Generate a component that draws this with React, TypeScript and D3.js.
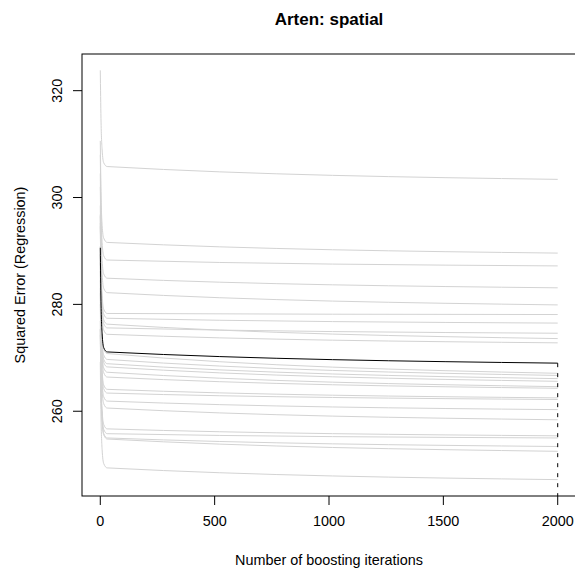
import React from "react";
import * as d3 from "d3";

// Boosting iterations at which the cross-validated risk is recorded
const iterations = [0, 3, 8, 15, 30, 2000];

// Out-of-sample squared error per bootstrap fold (one row per fold)
const foldRisk: number[][] = [
  [323.8, 314.8, 308.9, 306.5, 305.8, 303.4],
  [310.6, 301.1, 294.8, 292.4, 291.6, 289.6],
  [308.0, 298.2, 291.6, 289.1, 288.3, 287.2],
  [304.5, 294.7, 288.2, 285.7, 284.9, 283.1],
  [302.0, 292.1, 285.6, 283.0, 282.2, 279.9],
  [298.5, 288.4, 281.7, 279.1, 278.3, 278.1],
  [296.8, 287.1, 280.7, 278.2, 277.4, 276.5],
  [296.5, 286.4, 279.7, 277.1, 276.3, 273.6],
  [295.2, 285.4, 278.9, 276.4, 275.6, 274.6],
  [294.6, 284.5, 277.8, 275.2, 274.4, 272.8],
  [290.9, 280.9, 274.2, 271.6, 270.8, 267.1],
  [289.4, 279.6, 273.0, 270.5, 269.7, 266.7],
  [289.3, 279.1, 272.4, 269.7, 268.9, 266.1],
  [287.9, 278.1, 271.6, 269.1, 268.3, 265.6],
  [287.6, 277.5, 270.8, 268.1, 267.3, 264.6],
  [286.2, 276.3, 269.8, 267.2, 266.4, 264.3],
  [284.5, 274.3, 267.6, 264.9, 264.1, 262.5],
  [283.0, 273.2, 266.7, 264.2, 263.4, 262.2],
  [282.1, 272.0, 265.3, 262.7, 261.9, 260.3],
  [280.0, 270.3, 263.9, 261.4, 260.6, 258.4],
  [276.9, 266.8, 260.1, 257.5, 256.7, 255.4],
  [275.4, 265.6, 259.1, 256.6, 255.8, 255.0],
  [275.3, 265.1, 258.5, 255.8, 255.0, 253.4],
  [274.3, 264.5, 258.1, 255.6, 254.8, 252.5],
  [269.2, 259.3, 252.8, 250.2, 249.4, 247.2],
];

// Average risk over all folds
const meanRisk = [290.6, 280.6, 274.5, 271.9, 271.1, 269.0];

// Selected stopping iteration
const mstop = 2000;

const xTicks = [0, 500, 1000, 1500, 2000];
const yTicks = [260, 280, 300, 320];

const title = "Arten: spatial";
const xLabel = "Number of boosting iterations";
const yLabel = "Squared Error (Regression)";

const W = 575;
const H = 569;
const plot = { left: 82, right: 576, top: 54, bottom: 496 };
const font = "'Liberation Sans', Arial, Helvetica, sans-serif";

export default function App() {
  // R-style 4% padding around the data ranges
  const xr = d3.extent(iterations) as [number, number];
  const xPad = (xr[1] - xr[0]) * 0.04;
  const all = foldRisk.flat().concat(meanRisk);
  const yr = d3.extent(all) as [number, number];
  const yPad = (yr[1] - yr[0]) * 0.04;

  const x = d3.scaleLinear().domain([xr[0] - xPad, xr[1] + xPad]).range([plot.left, plot.right]);
  const y = d3.scaleLinear().domain([yr[0] - yPad, yr[1] + yPad]).range([plot.bottom, plot.top]);

  const line = d3
    .line<number>()
    .x((_, i) => x(iterations[i]))
    .y((d) => y(d))
    .curve(d3.curveMonotoneX);

  const stopIdx = iterations.indexOf(mstop);
  const tick = 9;

  return (
    <svg
      width={W}
      height={H}
      style={{ position: "absolute", left: 0, top: 0, background: "#fff" }}
      fontFamily={font}
    >
      <rect x={0} y={0} width={W} height={H} fill="#fff" />
      <defs>
        <clipPath id="plotArea">
          <rect x={plot.left} y={plot.top} width={plot.right - plot.left} height={plot.bottom - plot.top} />
        </clipPath>
      </defs>

      <g clipPath="url(#plotArea)">
        {foldRisk.map((r, k) => (
          <path key={k} d={line(r) ?? ""} fill="none" stroke="#d3d3d3" strokeWidth={1} />
        ))}
        <path d={line(meanRisk) ?? ""} fill="none" stroke="#000" strokeWidth={1} />
        <line
          x1={x(mstop)}
          x2={x(mstop)}
          y1={y(meanRisk[stopIdx])}
          y2={plot.bottom}
          stroke="#000"
          strokeWidth={1}
          strokeDasharray="4,6"
        />
      </g>

      {/* plot box */}
      <rect
        x={plot.left}
        y={plot.top}
        width={plot.right - plot.left}
        height={plot.bottom - plot.top}
        fill="none"
        stroke="#000"
        strokeWidth={1}
      />

      {/* x axis */}
      <g>
        {xTicks.map((t) => (
          <g key={t}>
            <line x1={x(t)} x2={x(t)} y1={plot.bottom} y2={plot.bottom + tick} stroke="#000" />
            <text x={x(t)} y={526} textAnchor="middle" fontSize={14.4}>
              {t}
            </text>
          </g>
        ))}
      </g>

      {/* y axis */}
      <g>
        {yTicks.map((t) => (
          <g key={t}>
            <line x1={plot.left - tick} x2={plot.left} y1={y(t)} y2={y(t)} stroke="#000" />
            <text
              transform={`translate(${62},${y(t)}) rotate(-90)`}
              textAnchor="middle"
              fontSize={14.4}
            >
              {t}
            </text>
          </g>
        ))}
      </g>

      <text x={(plot.left + plot.right) / 2} y={25} textAnchor="middle" fontSize={17} fontWeight="bold">
        {title}
      </text>
      <text x={(plot.left + plot.right) / 2} y={565} textAnchor="middle" fontSize={14.4}>
        {xLabel}
      </text>
      <text
        transform={`translate(${25},${(plot.top + plot.bottom) / 2}) rotate(-90)`}
        textAnchor="middle"
        fontSize={14.4}
      >
        {yLabel}
      </text>
    </svg>
  );
}
